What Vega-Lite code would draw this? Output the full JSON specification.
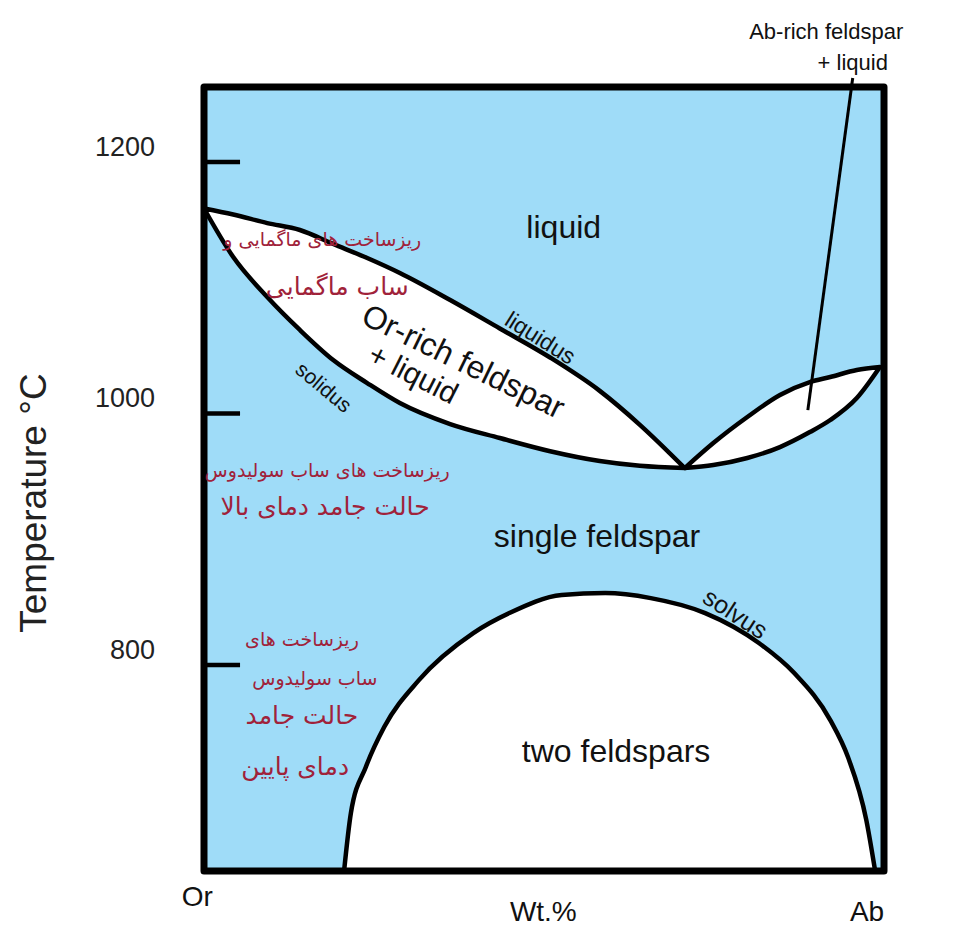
{
  "$schema": "https://vega.github.io/schema/vega-lite/v6.json",
  "width": 680,
  "height": 784,
  "autosize": {"type": "none"},
  "padding": {"left": 204, "top": 87, "right": 75, "bottom": 60},
  "background": "white",
  "config": {"view": {"fill": "#9fdcf8", "stroke": null}, "font": "Liberation Sans"},
  "datasets": {
    "orLens": [
      {"x": 0, "hi": 1163, "lo": 1163},
      {"x": 4.3, "hi": 1158.2, "lo": 1124.4},
      {"x": 9.3, "hi": 1151.4, "lo": 1092.6},
      {"x": 14.1, "hi": 1145.9, "lo": 1066.4},
      {"x": 19.0, "hi": 1134.8, "lo": 1042.5},
      {"x": 24.0, "hi": 1123.6, "lo": 1024.2},
      {"x": 28.8, "hi": 1111.7, "lo": 1008.3},
      {"x": 36.2, "hi": 1090.2, "lo": 991.6},
      {"x": 43.5, "hi": 1067.6, "lo": 980.5},
      {"x": 50.9, "hi": 1044.5, "lo": 970.0},
      {"x": 58.2, "hi": 1018.0, "lo": 962.2},
      {"x": 64.1, "hi": 991.0, "lo": 958.4},
      {"x": 70.7, "hi": 956.6, "lo": 956.6}
    ],
    "abLens": [
      {"x": 70.7, "hi": 956.6, "lo": 956.6},
      {"x": 74.9, "hi": 976.5, "lo": 959.0},
      {"x": 79.9, "hi": 997.2, "lo": 964.6},
      {"x": 84.7, "hi": 1014.7, "lo": 973.3},
      {"x": 89.1, "hi": 1025.0, "lo": 985.2},
      {"x": 92.1, "hi": 1029.0, "lo": 994.8},
      {"x": 96.0, "hi": 1034.6, "lo": 1012.3},
      {"x": 99.4, "hi": 1037.0, "lo": 1037.0}
    ],
    "solvusCurve": [
      {"x": 20.6, "hi": 636.2, "lo": 636.2},
      {"x": 21.6, "hi": 682.3, "lo": 636.2},
      {"x": 23.8, "hi": 718.9, "lo": 636.2},
      {"x": 26.5, "hi": 750.7, "lo": 636.2},
      {"x": 31.6, "hi": 788.0, "lo": 636.2},
      {"x": 39.6, "hi": 825.4, "lo": 636.2},
      {"x": 44.9, "hi": 841.3, "lo": 636.2},
      {"x": 52.6, "hi": 855.6, "lo": 636.2},
      {"x": 59.0, "hi": 857.2, "lo": 636.2},
      {"x": 65.7, "hi": 853.2, "lo": 636.2},
      {"x": 73.7, "hi": 841.3, "lo": 636.2},
      {"x": 81.6, "hi": 817.5, "lo": 636.2},
      {"x": 86.8, "hi": 793.6, "lo": 636.2},
      {"x": 92.1, "hi": 756.2, "lo": 636.2},
      {"x": 94.7, "hi": 726.8, "lo": 636.2},
      {"x": 97.4, "hi": 676.7, "lo": 636.2},
      {"x": 98.7, "hi": 636.2, "lo": 636.2}
    ],
    "leader": [{"xa": 95.4, "ta": 1266.8, "xb": 88.8, "tb": 1002.7}],
    "tickRows": [{"T": 1200, "xa": 0, "xb": 5.3}, {"T": 1000, "xa": 0, "xb": 5.3}, {"T": 800, "xa": 0, "xb": 5.3}],
    "frameRow": [{"xa": 0, "xb": 100, "ta": 636.2, "tb": 1259.6}],
    "yTitle": [{"label": "Temperature °C", "x": -24.9, "T": 928.8}],
    "regions": [
      {"label": "liquid", "x": 52.9, "T": 1147.5},
      {"label": "single feldspar", "x": 57.8, "T": 901.8},
      {"label": "two feldspars", "x": 60.6, "T": 730.8}
    ],
    "orRich": [{"label": "Or-rich feldspar", "x": 38.1, "T": 1040.9}],
    "plusLiquid": [{"label": "+ liquid", "x": 30.7, "T": 1030.6}],
    "liquidusLbl": [{"label": "liquidus", "x": 49.4, "T": 1059.5}],
    "solidusLbl": [{"label": "solidus", "x": 17.5, "T": 1020.2}],
    "solvusLbl": [{"label": "solvus", "x": 78.1, "T": 840.5}],
    "abNote": [
      {"label": "Ab-rich feldspar", "x": 91.5, "T": 1303.3},
      {"label": "+ liquid", "x": 95.4, "T": 1278.7}
    ],
    "ends": [
      {"label": "Or", "x": -1.0, "T": 614.7},
      {"label": "Ab", "x": 97.5, "T": 602.8},
      {"label": "Wt.%", "x": 49.9, "T": 602.8}
    ],
    "faSmall": [
      {"label": "ریزساخت های ماگمایی و", "x": 17.4, "T": 1137.9},
      {"label": "ریزساخت های ساب سولیدوس", "x": 18.1, "T": 954.2},
      {"label": "ریزساخت های", "x": 14.4, "T": 819.9},
      {"label": "ساب سولیدوس", "x": 16.3, "T": 788.8}
    ],
    "faBig": [
      {"label": "ساب ماگمایی", "x": 19.6, "T": 1100.6},
      {"label": "حالت جامد دمای بالا", "x": 17.8, "T": 925.6},
      {"label": "حالت جامد", "x": 14.4, "T": 759.4},
      {"label": "دمای پایین", "x": 13.4, "T": 718.9}
    ]
  },
  "layer": [
    {
      "data": {"name": "orLens"},
      "mark": {"type": "area", "fill": "white", "stroke": "black", "strokeWidth": 4.5, "interpolate": "monotone", "strokeJoin": "round"},
      "encoding": {
        "x": {"field": "x", "type": "quantitative", "scale": {"domain": [0, 100], "nice": false, "zero": false}, "axis": null},
        "y": {"field": "hi", "type": "quantitative", "scale": {"domain": [636.2, 1259.6], "nice": false, "zero": false}, "axis": null},
        "y2": {"field": "lo"}
      }
    },
    {
      "data": {"name": "abLens"},
      "mark": {"type": "area", "fill": "white", "stroke": "black", "strokeWidth": 4.5, "interpolate": "monotone", "strokeJoin": "round"},
      "encoding": {
        "x": {"field": "x", "type": "quantitative", "axis": null},
        "y": {"field": "hi", "type": "quantitative", "axis": null},
        "y2": {"field": "lo"}
      }
    },
    {
      "data": {"name": "solvusCurve"},
      "mark": {"type": "area", "fill": "white", "stroke": "black", "strokeWidth": 4.5, "interpolate": "monotone", "strokeJoin": "round"},
      "encoding": {
        "x": {"field": "x", "type": "quantitative", "axis": null},
        "y": {"field": "hi", "type": "quantitative", "axis": null},
        "y2": {"field": "lo"}
      }
    },
    {
      "data": {"name": "leader"},
      "mark": {"type": "rule", "stroke": "black", "strokeWidth": 3},
      "encoding": {
        "x": {"field": "xa", "type": "quantitative", "axis": null},
        "y": {"field": "ta", "type": "quantitative", "axis": null},
        "x2": {"field": "xb"},
        "y2": {"field": "tb"}
      }
    },
    {
      "data": {"name": "tickRows"},
      "mark": {"type": "rule", "stroke": "black", "strokeWidth": 4.5},
      "encoding": {
        "x": {"field": "xa", "type": "quantitative", "axis": null},
        "x2": {"field": "xb"},
        "y": {"field": "T", "type": "quantitative", "axis": null}
      }
    },
    {
      "data": {"name": "tickRows"},
      "mark": {"type": "text", "fontSize": 27, "color": "#222", "align": "right", "baseline": "middle", "dx": -49, "dy": -14},
      "encoding": {
        "x": {"field": "xa", "type": "quantitative", "axis": null},
        "y": {"field": "T", "type": "quantitative", "axis": null},
        "text": {"field": "T", "type": "quantitative", "format": "d"}
      }
    },
    {
      "data": {"name": "yTitle"},
      "mark": {"type": "text", "fontSize": 37, "color": "#222", "align": "center", "baseline": "middle", "angle": -90},
      "encoding": {
        "x": {"field": "x", "type": "quantitative", "axis": null},
        "y": {"field": "T", "type": "quantitative", "axis": null},
        "text": {"field": "label"}
      }
    },
    {
      "data": {"name": "frameRow"},
      "mark": {"type": "rect", "filled": false, "stroke": "black", "strokeWidth": 7, "strokeJoin": "round"},
      "encoding": {
        "x": {"field": "xa", "type": "quantitative", "axis": null},
        "x2": {"field": "xb"},
        "y": {"field": "ta", "type": "quantitative", "axis": null},
        "y2": {"field": "tb"}
      }
    },
    {
      "data": {"name": "regions"},
      "mark": {"type": "text", "fontSize": 32, "color": "#111", "align": "center", "baseline": "middle"},
      "encoding": {
        "x": {"field": "x", "type": "quantitative", "axis": null},
        "y": {"field": "T", "type": "quantitative", "axis": null},
        "text": {"field": "label"}
      }
    },
    {
      "data": {"name": "orRich"},
      "mark": {"type": "text", "fontSize": 32, "color": "#111", "align": "center", "baseline": "middle", "angle": 26},
      "encoding": {
        "x": {"field": "x", "type": "quantitative", "axis": null},
        "y": {"field": "T", "type": "quantitative", "axis": null},
        "text": {"field": "label"}
      }
    },
    {
      "data": {"name": "plusLiquid"},
      "mark": {"type": "text", "fontSize": 30, "color": "#111", "align": "center", "baseline": "middle", "angle": 27},
      "encoding": {
        "x": {"field": "x", "type": "quantitative", "axis": null},
        "y": {"field": "T", "type": "quantitative", "axis": null},
        "text": {"field": "label"}
      }
    },
    {
      "data": {"name": "liquidusLbl"},
      "mark": {"type": "text", "fontSize": 23, "color": "#111", "align": "center", "baseline": "middle", "angle": 32},
      "encoding": {
        "x": {"field": "x", "type": "quantitative", "axis": null},
        "y": {"field": "T", "type": "quantitative", "axis": null},
        "text": {"field": "label"}
      }
    },
    {
      "data": {"name": "solidusLbl"},
      "mark": {"type": "text", "fontSize": 21, "color": "#111", "align": "center", "baseline": "middle", "angle": 40},
      "encoding": {
        "x": {"field": "x", "type": "quantitative", "axis": null},
        "y": {"field": "T", "type": "quantitative", "axis": null},
        "text": {"field": "label"}
      }
    },
    {
      "data": {"name": "solvusLbl"},
      "mark": {"type": "text", "fontSize": 25, "color": "#111", "align": "center", "baseline": "middle", "angle": 33},
      "encoding": {
        "x": {"field": "x", "type": "quantitative", "axis": null},
        "y": {"field": "T", "type": "quantitative", "axis": null},
        "text": {"field": "label"}
      }
    },
    {
      "data": {"name": "abNote"},
      "mark": {"type": "text", "fontSize": 22, "color": "#111", "align": "center", "baseline": "middle"},
      "encoding": {
        "x": {"field": "x", "type": "quantitative", "axis": null},
        "y": {"field": "T", "type": "quantitative", "axis": null},
        "text": {"field": "label"}
      }
    },
    {
      "data": {"name": "ends"},
      "mark": {"type": "text", "fontSize": 28, "color": "#111", "align": "center", "baseline": "middle"},
      "encoding": {
        "x": {"field": "x", "type": "quantitative", "axis": null},
        "y": {"field": "T", "type": "quantitative", "axis": null},
        "text": {"field": "label"}
      }
    },
    {
      "data": {"name": "faSmall"},
      "mark": {"type": "text", "fontSize": 19, "font": "DejaVu Sans", "color": "#a0223a", "align": "center", "baseline": "middle"},
      "encoding": {
        "x": {"field": "x", "type": "quantitative", "axis": null},
        "y": {"field": "T", "type": "quantitative", "axis": null},
        "text": {"field": "label"}
      }
    },
    {
      "data": {"name": "faBig"},
      "mark": {"type": "text", "fontSize": 25, "font": "DejaVu Sans", "color": "#a0223a", "align": "center", "baseline": "middle"},
      "encoding": {
        "x": {"field": "x", "type": "quantitative", "axis": null},
        "y": {"field": "T", "type": "quantitative", "axis": null},
        "text": {"field": "label"}
      }
    }
  ]
}
